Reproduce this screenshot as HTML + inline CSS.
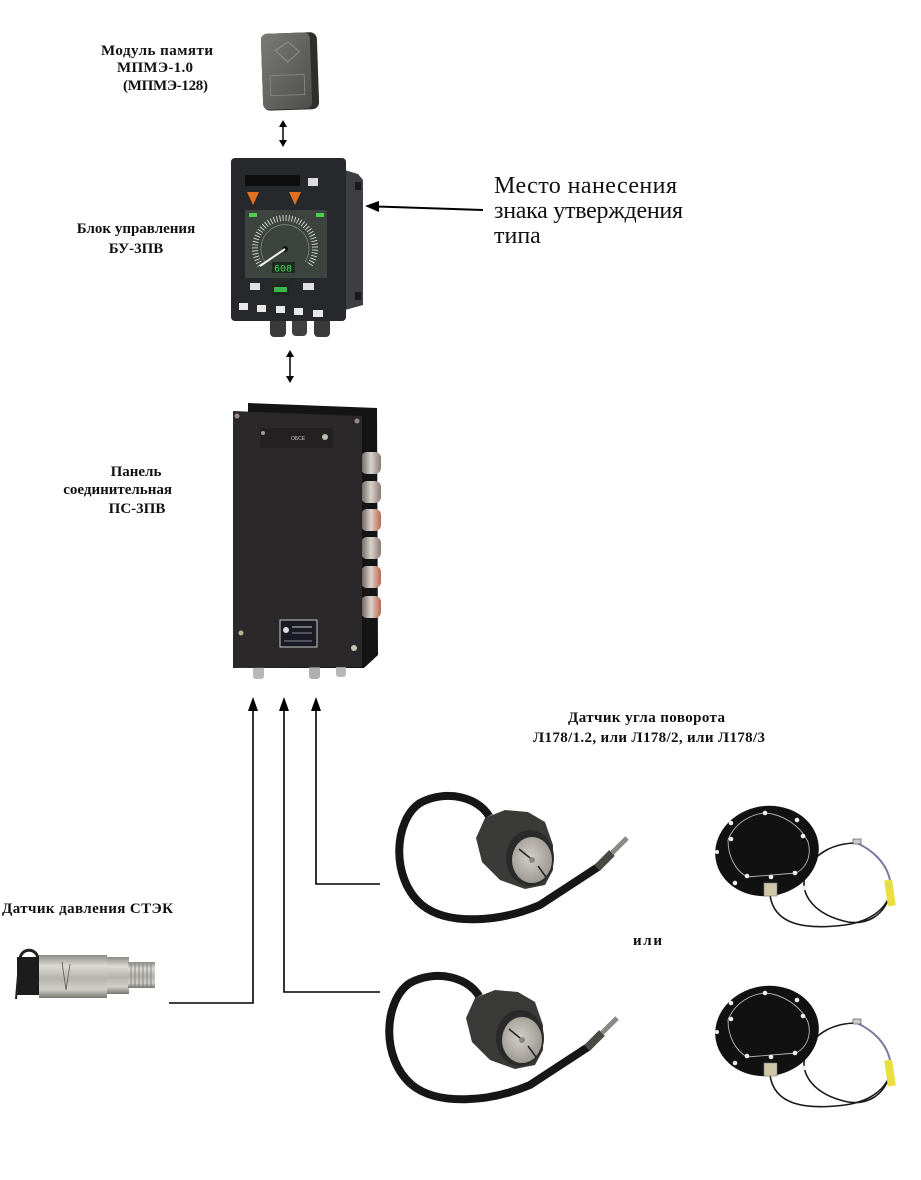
<!DOCTYPE html>
<html><head><meta charset="utf-8"><style>
html,body{margin:0;padding:0;background:#fff;}
svg{display:block;}
text{font-family:"Liberation Serif","Noto Serif CJK SC",serif;}
.b{font-weight:bold;font-size:15px;fill:#111;}
.r{font-size:24px;fill:#111;}
</style></head><body>
<svg width="921" height="1180" viewBox="0 0 921 1180" xmlns="http://www.w3.org/2000/svg">
<defs>
<linearGradient id="mod" x1="0" y1="0" x2="1" y2="1"><stop offset="0" stop-color="#7a7a76"/><stop offset="1" stop-color="#4e4e4b"/></linearGradient>
<linearGradient id="cyl" x1="0" y1="0" x2="0" y2="1"><stop offset="0" stop-color="#8e8c86"/><stop offset="0.25" stop-color="#dcdad4"/><stop offset="0.55" stop-color="#b4b2ac"/><stop offset="0.8" stop-color="#d2d0ca"/><stop offset="1" stop-color="#77756f"/></linearGradient>
<linearGradient id="conn" x1="0" y1="0" x2="1" y2="0"><stop offset="0" stop-color="#6a6460"/><stop offset="0.5" stop-color="#d8d2cc"/><stop offset="1" stop-color="#8a7c74"/></linearGradient>
<linearGradient id="connr" x1="0" y1="0" x2="1" y2="0"><stop offset="0" stop-color="#6a5a54"/><stop offset="0.5" stop-color="#e0d4cc"/><stop offset="1" stop-color="#b86850"/></linearGradient>
<radialGradient id="disc" cx="0.45" cy="0.45" r="0.6"><stop offset="0" stop-color="#d2cec8"/><stop offset="1" stop-color="#9a968f"/></radialGradient>
</defs>
<rect width="921" height="1180" fill="#fff"/>

<!-- Labels -->
<text class="b" x="101" y="55" textLength="112">Модуль памяти</text>
<text class="b" x="117" y="72" textLength="76">МПМЭ-1.0</text>
<text class="b" x="123" y="90" textLength="85">(МПМЭ-128)</text>
<text class="b" x="136" y="233" text-anchor="middle">Блок управления</text>
<text class="b" x="136" y="253" text-anchor="middle">БУ-3ПВ</text>
<text class="b" x="136" y="476" text-anchor="middle">Панель</text>
<text class="b" x="172" y="494" text-anchor="end">соединительная</text>
<text class="b" x="137" y="513" text-anchor="middle">ПС-3ПВ</text>
<text class="b" x="2" y="913" textLength="171">Датчик давления СТЭК</text>
<text class="b" x="568" y="722" textLength="157">Датчик угла поворота</text>
<text class="b" x="533" y="742" textLength="232">Л178/1.2, или Л178/2, или Л178/3</text>
<text class="b" x="633" y="945" textLength="29">или</text>
<text class="r" x="494" y="193" textLength="183">Место нанесения</text>
<text class="r" x="494" y="218" textLength="189">знака утверждения</text>
<text class="r" x="494" y="243">типа</text>

<!-- Memory module -->
<g transform="rotate(-2 289 71)">
<rect x="262" y="33" width="56" height="77" rx="7" fill="#2e2e2d"/>
<rect x="262" y="33" width="49" height="76" rx="6" fill="url(#mod)"/>
<path d="M276 50 L289 42 L300 52 L288 62 Z" fill="none" stroke="#8e8e8a" stroke-width="1"/>
<rect x="270" y="75" width="34" height="20" fill="none" stroke="#8a8a86" stroke-width="0.8"/>
</g>
<!-- double arrow 1 -->
<line x1="283" y1="126" x2="283" y2="142" stroke="#000" stroke-width="1.5"/>
<polygon points="283,120 279,127 287,127" fill="#000"/>
<polygon points="283,147 279,140 287,140" fill="#000"/>

<!-- BU-3PV -->
<polygon points="338,168 358,174 363,180 363,305 338,312" fill="#3c3e42"/>
<rect x="355" y="182" width="6" height="8" fill="#1a1a1a"/>
<rect x="355" y="292" width="6" height="8" fill="#1a1a1a"/>
<rect x="270" y="316" width="16" height="21" rx="4" fill="#3a3a3a"/>
<rect x="292" y="318" width="15" height="18" rx="4" fill="#404040"/>
<rect x="314" y="318" width="16" height="19" rx="4" fill="#3a3a3a"/>
<rect x="231" y="158" width="115" height="163" rx="4" fill="#26282b"/>
<rect x="245" y="175" width="55" height="11" fill="#0e0e0e"/>
<rect x="308" y="178" width="10" height="8" fill="#dcdcdc"/>
<polygon points="247,192 259,192 253,205" fill="#e2701e"/>
<polygon points="289,192 301,192 295,205" fill="#e2701e"/>
<rect x="245" y="210" width="82" height="68" fill="#3d4440"/>
<rect x="249" y="213" width="8" height="4" fill="#4ad04a"/>
<rect x="316" y="213" width="8" height="4" fill="#4ad04a"/>
<path d="M260.4,265.2 A30,30 0 1 1 309.6,265.2" fill="none" stroke="#e8e8e8" stroke-width="6" stroke-dasharray="0.8 2.2"/>
<path d="M265,262 A24,24 0 1 1 305,262" fill="none" stroke="#9a9a9a" stroke-width="0.6"/>
<circle cx="285" cy="249" r="3" fill="#111"/>
<line x1="285" y1="249" x2="260" y2="266" stroke="#f0f0f0" stroke-width="2"/>
<rect x="272" y="262" width="23" height="11" fill="#1c2a1e"/>
<text x="274" y="271.5" font-size="10" fill="#4ade5a" style="font-family:'Liberation Mono',monospace">608</text>
<rect x="250" y="283" width="10" height="7" fill="#e0e0e0"/>
<rect x="303" y="283" width="11" height="7" fill="#e0e0e0"/>
<rect x="272" y="284" width="17" height="11" fill="#1c2a1e"/>
<rect x="274" y="287" width="13" height="5" fill="#3cb84a"/>
<rect x="239" y="303" width="9" height="7" fill="#e8e8e8"/>
<rect x="257" y="305" width="9" height="7" fill="#e8e8e8"/>
<rect x="276" y="306" width="9" height="7" fill="#e8e8e8"/>
<rect x="294" y="308" width="9" height="7" fill="#e8e8e8"/>
<rect x="313" y="310" width="10" height="7" fill="#e8e8e8"/>

<!-- approval mark arrow -->
<line x1="376" y1="206.5" x2="483" y2="210" stroke="#000" stroke-width="2"/>
<polygon points="365,206 379,201 379,212" fill="#000"/>

<!-- double arrow 2 -->
<line x1="290" y1="356" x2="290" y2="378" stroke="#000" stroke-width="1.5"/>
<polygon points="290,350 286,357 294,357" fill="#000"/>
<polygon points="290,383 286,376 294,376" fill="#000"/>

<!-- PS-3PV -->
<polygon points="248,403 377,408 378,655 364,668 248,668" fill="#151414"/>
<rect x="253" y="665" width="11" height="14" rx="3" fill="#b8b8b8"/>
<rect x="309" y="665" width="11" height="14" rx="3" fill="#b0b0b0"/>
<rect x="336" y="665" width="10" height="12" rx="3" fill="#b8b8b8"/>
<rect x="361" y="452" width="20" height="22" rx="6" fill="url(#conn)"/>
<rect x="361" y="481" width="20" height="22" rx="6" fill="url(#conn)"/>
<rect x="361" y="509" width="20" height="22" rx="6" fill="url(#connr)"/>
<rect x="361" y="537" width="20" height="22" rx="6" fill="url(#conn)"/>
<rect x="361" y="566" width="20" height="22" rx="6" fill="url(#connr)"/>
<rect x="361" y="596" width="20" height="22" rx="6" fill="url(#connr)"/>
<polygon points="233,411 362,416 362,667 233,668" fill="#2a2828"/>
<rect x="260" y="428" width="73" height="20" fill="#222020"/>
<text x="291" y="440" font-size="5" fill="#ccc" style="font-family:'Liberation Sans',sans-serif">ОБСЕ</text>
<circle cx="237" cy="416" r="2.5" fill="#9a8a80"/>
<circle cx="357" cy="421" r="2.5" fill="#9a8a80"/>
<circle cx="263" cy="433" r="2" fill="#9a9a9a"/>
<circle cx="325" cy="437" r="3" fill="#b8c0b0"/>
<circle cx="241" cy="633" r="2.5" fill="#b0b890"/>
<circle cx="354" cy="648" r="3" fill="#c0c8b8"/>
<rect x="280" y="620" width="37" height="27" fill="#1a1a24" stroke="#c8c8c8" stroke-width="1"/>
<circle cx="286" cy="630" r="3" fill="#ddd"/>
<line x1="292" y1="627" x2="312" y2="627" stroke="#ccc" stroke-width="1"/>
<line x1="292" y1="633" x2="312" y2="633" stroke="#aaa" stroke-width="0.8"/>
<line x1="284" y1="641" x2="312" y2="641" stroke="#aaa" stroke-width="0.8"/>

<!-- bottom connectors -->
<g stroke="#000" stroke-width="1.6" fill="none">
<polyline points="169,1003 253,1003 253,709"/>
<polyline points="380,992 284,992 284,709"/>
<polyline points="380,884 316,884 316,709"/>
</g>
<polygon points="253,697 248,711 258,711" fill="#000"/>
<polygon points="284,697 279,711 289,711" fill="#000"/>
<polygon points="316,697 311,711 321,711" fill="#000"/>

<!-- pressure sensor -->
<path d="M20 960 C20 947 38 947 38 960" fill="none" stroke="#222" stroke-width="3"/>
<rect x="17" y="957" width="23" height="38" fill="#1c1c1c"/>
<line x1="18" y1="975" x2="16" y2="999" stroke="#222" stroke-width="2"/>
<rect x="39" y="955" width="68" height="43" fill="url(#cyl)"/>
<path d="M62 962 L66 990 L70 964" fill="none" stroke="#555" stroke-width="0.8"/>
<rect x="107" y="957" width="22" height="37" fill="url(#cyl)"/>
<rect x="128" y="962" width="27" height="26" fill="url(#cyl)"/>
<g stroke="#7a7872" stroke-width="0.8">
<line x1="131" y1="963" x2="131" y2="987"/><line x1="135" y1="963" x2="135" y2="987"/><line x1="139" y1="963" x2="139" y2="987"/><line x1="143" y1="963" x2="143" y2="987"/><line x1="147" y1="963" x2="147" y2="987"/><line x1="151" y1="963" x2="151" y2="987"/>
</g>

<!-- rotary sensor top -->
<g>
<path d="M492 822 C482 796 445 789 420 803 C394 820 390 878 422 905 C448 926 500 922 540 905 L598 867" fill="none" stroke="#161616" stroke-width="8" stroke-linecap="round"/>
<line x1="597" y1="868" x2="612" y2="853" stroke="#4a4a44" stroke-width="8"/>
<line x1="612" y1="853" x2="627" y2="838" stroke="#8c8a84" stroke-width="5"/>
<rect x="486" y="816" width="9" height="8" fill="#9a9a9a" transform="rotate(-30 490 820)"/>
<polygon points="476,838 485,818 505,810 528,812 545,822 553,845 553,870 545,885 525,889 500,880 482,862" fill="#3a3a38"/>
<ellipse cx="530" cy="858" rx="24" ry="28" fill="#2a2a2a"/>
<ellipse cx="532" cy="860" rx="20" ry="23" fill="url(#disc)"/>
<line x1="519" y1="849" x2="530" y2="858" stroke="#222" stroke-width="1.5"/>
<line x1="538" y1="866" x2="546" y2="877" stroke="#222" stroke-width="1.5"/>
<circle cx="532" cy="860" r="3" fill="#8a8680"/>
</g>
<!-- rotary sensor bottom -->
<g transform="translate(-10 180)">
<path d="M492 822 C482 796 445 789 420 803 C394 820 390 878 422 905 C448 926 500 922 540 905 L598 867" fill="none" stroke="#161616" stroke-width="8" stroke-linecap="round"/>
<line x1="597" y1="868" x2="612" y2="853" stroke="#4a4a44" stroke-width="8"/>
<line x1="612" y1="853" x2="627" y2="838" stroke="#8c8a84" stroke-width="5"/>
<rect x="486" y="816" width="9" height="8" fill="#9a9a9a" transform="rotate(-30 490 820)"/>
<polygon points="476,838 485,818 505,810 528,812 545,822 553,845 553,870 545,885 525,889 500,880 482,862" fill="#3a3a38"/>
<ellipse cx="530" cy="858" rx="24" ry="28" fill="#2a2a2a"/>
<ellipse cx="532" cy="860" rx="20" ry="23" fill="url(#disc)"/>
<line x1="519" y1="849" x2="530" y2="858" stroke="#222" stroke-width="1.5"/>
<line x1="538" y1="866" x2="546" y2="877" stroke="#222" stroke-width="1.5"/>
<circle cx="532" cy="860" r="3" fill="#8a8680"/>
</g>

<!-- disc sensor top -->
<g>
<path d="M770 895 C774 925 805 930 845 925 C872 921 888 908 892 888" fill="none" stroke="#1a1a1a" stroke-width="1.6"/>
<path d="M857 843 C835 843 815 852 806 872 C798 895 815 915 848 922 C868 925 882 915 888 900" fill="none" stroke="#1a1a1a" stroke-width="1.6"/>
<path d="M857 843 C872 850 886 862 890 880" fill="none" stroke="#7a7aa0" stroke-width="2"/>
<rect x="853" y="839" width="8" height="5" fill="#ccc" stroke="#444" stroke-width="0.6"/>
<rect x="886" y="880" width="8" height="26" fill="#e8e040" transform="rotate(-8 890 893)"/>
<ellipse cx="767" cy="851" rx="52" ry="45" fill="#111" transform="rotate(-10 767 851)"/>
<path d="M728 840 C735 822 752 814 765 813 C782 814 800 825 808 842 C812 856 806 868 796 873 L747 877 C735 870 728 856 728 840 Z" fill="none" stroke="#b8b8b8" stroke-width="0.9"/>
<g fill="#eee">
<circle cx="731" cy="823" r="2.3"/><circle cx="797" cy="820" r="2.3"/><circle cx="765" cy="813" r="2.3"/>
<circle cx="731" cy="839" r="2.3"/><circle cx="803" cy="836" r="2.3"/>
<circle cx="747" cy="876" r="2.3"/><circle cx="771" cy="877" r="2.3"/><circle cx="795" cy="873" r="2.3"/>
<circle cx="735" cy="883" r="2.3"/><circle cx="804" cy="888" r="2.3"/><circle cx="717" cy="852" r="2"/>
</g>
<rect x="764" y="883" width="13" height="13" fill="#cfc8a8" stroke="#777" stroke-width="0.6"/>
</g>
<!-- disc sensor bottom -->
<g transform="translate(0 180)">
<path d="M770 895 C774 925 805 930 845 925 C872 921 888 908 892 888" fill="none" stroke="#1a1a1a" stroke-width="1.6"/>
<path d="M857 843 C835 843 815 852 806 872 C798 895 815 915 848 922 C868 925 882 915 888 900" fill="none" stroke="#1a1a1a" stroke-width="1.6"/>
<path d="M857 843 C872 850 886 862 890 880" fill="none" stroke="#7a7aa0" stroke-width="2"/>
<rect x="853" y="839" width="8" height="5" fill="#ccc" stroke="#444" stroke-width="0.6"/>
<rect x="886" y="880" width="8" height="26" fill="#e8e040" transform="rotate(-8 890 893)"/>
<ellipse cx="767" cy="851" rx="52" ry="45" fill="#111" transform="rotate(-10 767 851)"/>
<path d="M728 840 C735 822 752 814 765 813 C782 814 800 825 808 842 C812 856 806 868 796 873 L747 877 C735 870 728 856 728 840 Z" fill="none" stroke="#b8b8b8" stroke-width="0.9"/>
<g fill="#eee">
<circle cx="731" cy="823" r="2.3"/><circle cx="797" cy="820" r="2.3"/><circle cx="765" cy="813" r="2.3"/>
<circle cx="731" cy="839" r="2.3"/><circle cx="803" cy="836" r="2.3"/>
<circle cx="747" cy="876" r="2.3"/><circle cx="771" cy="877" r="2.3"/><circle cx="795" cy="873" r="2.3"/>
<circle cx="735" cy="883" r="2.3"/><circle cx="804" cy="888" r="2.3"/><circle cx="717" cy="852" r="2"/>
</g>
<rect x="764" y="883" width="13" height="13" fill="#cfc8a8" stroke="#777" stroke-width="0.6"/>
</g>
</svg>
</body></html>
